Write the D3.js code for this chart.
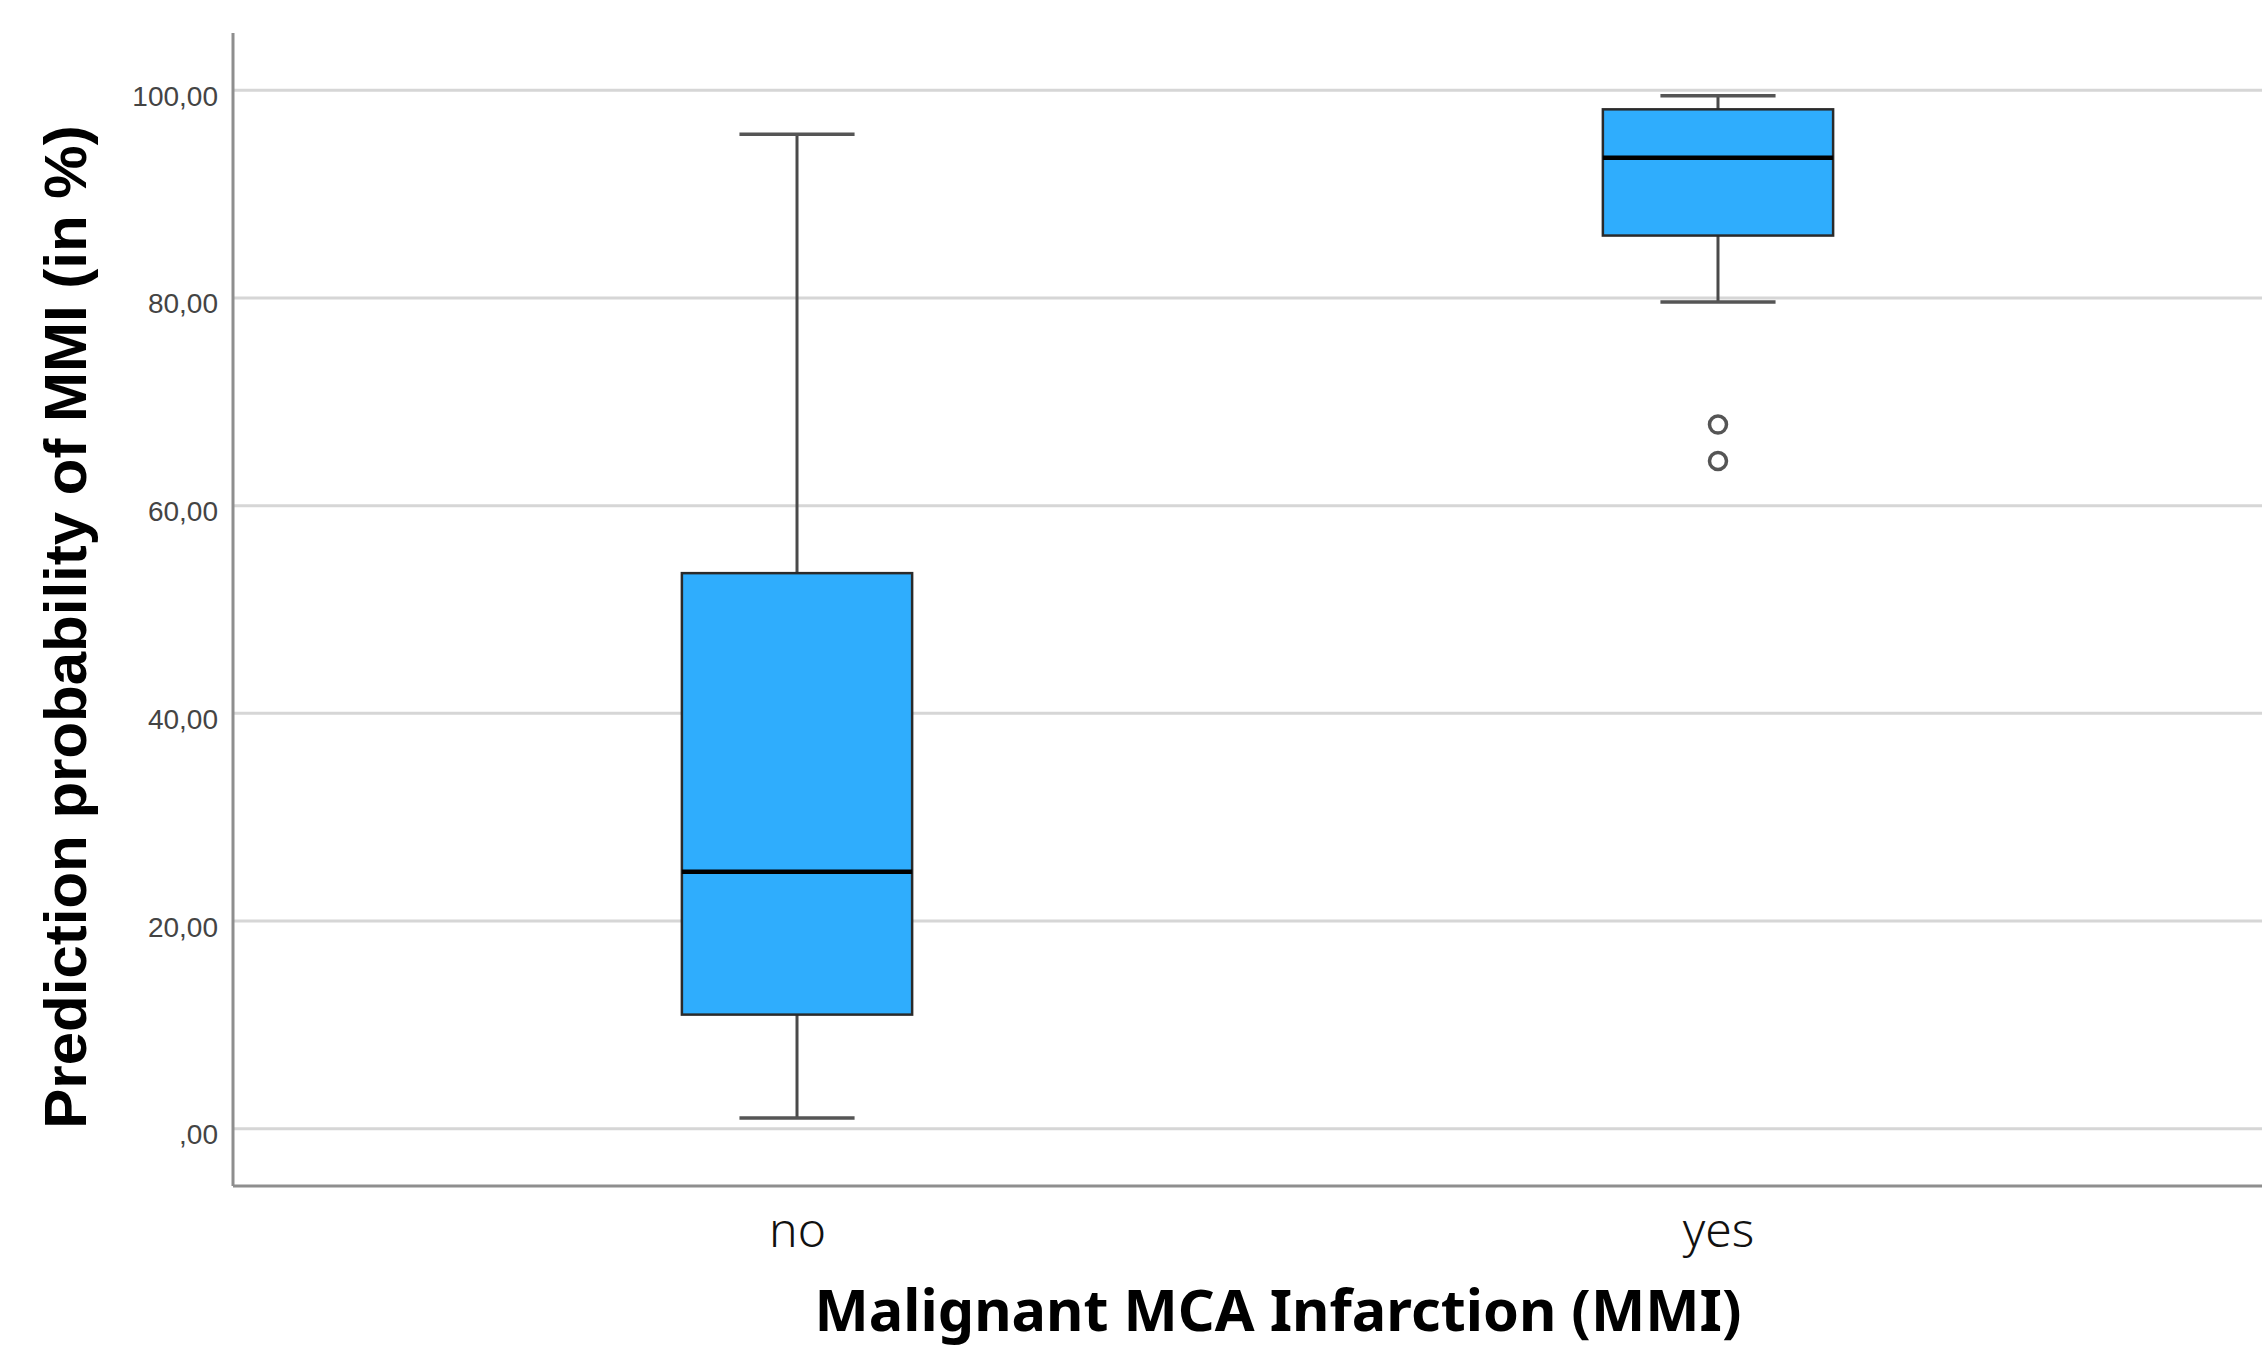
<!DOCTYPE html>
<html>
<head>
<meta charset="utf-8">
<script src="https://cdn.jsdelivr.net/npm/d3@7"></script>
<style>
	body { margin: 0; background: #fff; }
	svg { display: block; }
</style>
</head>
<body>
<svg width="2262" height="1349"></svg>
<script>
var categories = ["no", "yes"];
var whiskerLow = [1.05, 79.6];
var q1 = [11.0, 86.0];
var median = [24.75, 93.5];
var q3 = [53.5, 98.15];
var whiskerHigh = [95.75, 99.45];
var outliers = [[], [67.8, 64.3]];
var tickValues = [0, 20, 40, 60, 80, 100];
var tickLabels = [",00", "20,00", "40,00", "60,00", "80,00", "100,00"];

var svg = d3.select("svg"),
	width = +svg.attr("width"),
	height = +svg.attr("height");

var plotLeft = 233, plotTop = 33, plotBottom = 1186;

var x = d3.scalePoint()
	.domain(categories)
	.range([plotLeft, 2282])
	.padding(0.6124);

var y = d3.scaleLinear()
	.domain([-5.5, 105.5])
	.range([plotBottom, plotTop]);

var boxW = x.step() * 0.25;

var data = categories.map(function(c, i) {
	return { cat: c, lo: whiskerLow[i], q1: q1[i], med: median[i], q3: q3[i], hi: whiskerHigh[i], out: outliers[i] };
});

// grid
svg.append("g").selectAll("line")
	.data(tickValues)
	.enter().append("line")
	.attr("x1", plotLeft).attr("x2", width)
	.attr("y1", function(d) { return y(d); })
	.attr("y2", function(d) { return y(d); })
	.attr("stroke", "#d6d6d6")
	.attr("stroke-width", 3);

// y axis
var yAxis = svg.append("g")
	.attr("transform", "translate(" + plotLeft + ",0)")
	.call(d3.axisLeft(y).tickValues(tickValues).tickSize(0).tickPadding(15)
		.tickFormat(function(d, i) { return tickLabels[i]; }));
yAxis.select(".domain").remove();
yAxis.selectAll("text")
	.attr("dy", 15)
	.attr("font-family", "Liberation Sans, Arial, sans-serif")
	.attr("font-size", 28)
	.attr("fill", "#444");

svg.append("line")
	.attr("x1", plotLeft).attr("x2", plotLeft)
	.attr("y1", plotTop).attr("y2", plotBottom)
	.attr("stroke", "#8e8e8e").attr("stroke-width", 3);

// x axis
var xAxis = svg.append("g")
	.attr("transform", "translate(0," + plotBottom + ")")
	.call(d3.axisBottom(x).tickSize(0).tickPadding(0));
xAxis.select(".domain").remove();
xAxis.selectAll("text")
	.attr("y", 61)
	.attr("dy", 0)
	.attr("font-family", "Noto Sans, sans-serif")
	.attr("font-weight", 300)
	.attr("font-size", 48)
	.attr("fill", "#111");

svg.append("line")
	.attr("x1", plotLeft).attr("x2", width)
	.attr("y1", plotBottom).attr("y2", plotBottom)
	.attr("stroke", "#8e8e8e").attr("stroke-width", 3);

// boxes
var g = svg.append("g").selectAll(".box")
	.data(data)
	.enter().append("g")
	.attr("class", "box");

g.append("line")
	.attr("x1", function(d) { return x(d.cat); })
	.attr("x2", function(d) { return x(d.cat); })
	.attr("y1", function(d) { return y(d.hi); })
	.attr("y2", function(d) { return y(d.lo); })
	.attr("stroke", "#4a4a4a").attr("stroke-width", 3);

g.selectAll(".cap")
	.data(function(d) { return [{ cat: d.cat, v: d.lo }, { cat: d.cat, v: d.hi }]; })
	.enter().append("line")
	.attr("class", "cap")
	.attr("x1", function(d) { return x(d.cat) - boxW / 4; })
	.attr("x2", function(d) { return x(d.cat) + boxW / 4; })
	.attr("y1", function(d) { return y(d.v); })
	.attr("y2", function(d) { return y(d.v); })
	.attr("stroke", "#555").attr("stroke-width", 3.5);

g.append("rect")
	.attr("x", function(d) { return x(d.cat) - boxW / 2; })
	.attr("width", boxW)
	.attr("y", function(d) { return y(d.q3); })
	.attr("height", function(d) { return y(d.q1) - y(d.q3); })
	.attr("fill", "#2fadfd")
	.attr("stroke", "#2a2a2a").attr("stroke-width", 2.5);

g.append("line")
	.attr("x1", function(d) { return x(d.cat) - boxW / 2; })
	.attr("x2", function(d) { return x(d.cat) + boxW / 2; })
	.attr("y1", function(d) { return y(d.med); })
	.attr("y2", function(d) { return y(d.med); })
	.attr("stroke", "#000").attr("stroke-width", 4.5);

g.selectAll(".out")
	.data(function(d) { return d.out.map(function(v) { return { cat: d.cat, v: v }; }); })
	.enter().append("circle")
	.attr("class", "out")
	.attr("cx", function(d) { return x(d.cat); })
	.attr("cy", function(d) { return y(d.v); })
	.attr("r", 8.5)
	.attr("fill", "none")
	.attr("stroke", "#555").attr("stroke-width", 3.5);

// titles
svg.append("text")
	.attr("transform", "translate(86,627) rotate(-90)")
	.attr("text-anchor", "middle")
	.attr("font-family", "Liberation Sans, Arial, sans-serif")
	.attr("font-weight", "bold")
	.attr("font-size", 60)
	.attr("fill", "#000")
	.text("Prediction probability of MMI (in %)");

svg.append("text")
	.attr("x", 1278).attr("y", 1331)
	.attr("text-anchor", "middle")
	.attr("font-family", "Noto Sans, sans-serif")
	.attr("font-weight", "bold")
	.attr("font-size", 58)
	.attr("textLength", 927)
	.attr("lengthAdjust", "spacingAndGlyphs")
	.attr("fill", "#000")
	.text("Malignant MCA Infarction (MMI)");
</script>
</body>
</html>
